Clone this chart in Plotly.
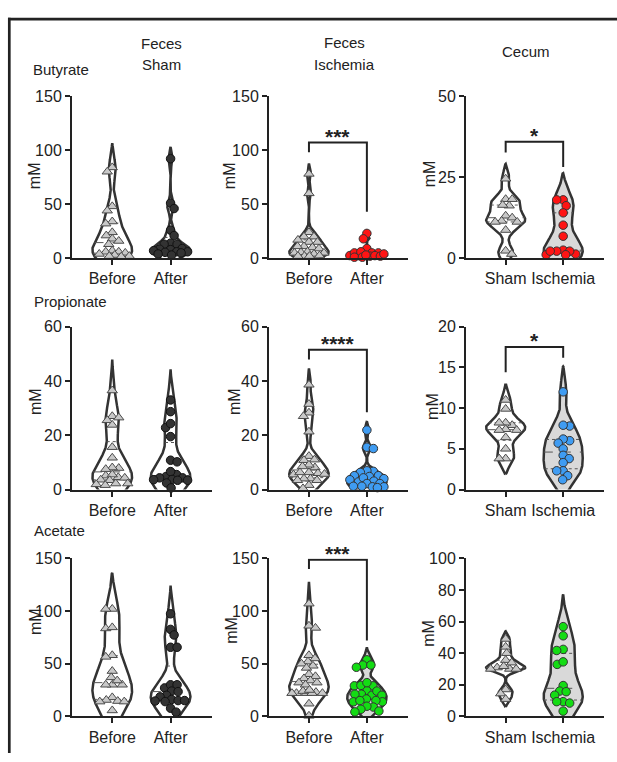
import numpy as np
import plotly.graph_objects as go

# ---------------- data (mM) ----------------
but_sham_before = [84, 80, 48, 44, 34, 32, 24, 21, 18, 16, 13, 7, 6, 6, 5, 4, 3, 2, 2, 1.5]
but_sham_after = [92, 51, 46, 26, 21, 14, 13, 13, 9, 8.5, 8, 7, 6, 6, 5.5, 5, 4, 3]
but_isch_before = [78, 60, 24, 20, 20, 17, 15, 15, 11, 10, 9, 11, 6, 5, 4, 5, 5.5, 2.5, 2, 2, 2]
but_isch_after = [23, 18, 9, 5, 2.5, 2.5, 5, 2, 5, 2.5, 6, 2, 1, 1, 4, 3]
but_cecum_sham = [24.5, 18.2, 18.2, 16.2, 16.4, 13.1, 12.5, 11.5, 11.2, 11.2, 8.7, 2.3, 1.3]
but_cecum_isch = [18, 18, 16.2, 14, 10.2, 6.8, 2.5, 1.3, 2.2, 2.2, 1.1, 2.2, 1.1]

prop_sham_before = [36.5, 27, 25.5, 26.5, 23.8, 15.6, 11.7, 7.9, 8.1, 7.5, 4.5, 5.1, 5.5, 3.6, 3.4, 4.3, 1.9, 2.2, 2.2, 1.6]
prop_sham_after = [33, 28.7, 22.8, 24.3, 19.5, 10.8, 10.2, 4.8, 5.5, 6.6, 4.3, 4.3, 3.7, 3.4, 3.4, 3.6, 2.4, 0.6]
prop_isch_before = [38.6, 31.5, 28.3, 27, 21.3, 12.3, 10.8, 11, 8.1, 9.1, 8.5, 6, 5.5, 6.3, 5.7, 6.3, 4, 3.4, 4, 3.4, 1.6, 0.4]
prop_isch_after = [21.9, 15.6, 15.1, 6.7, 6.9, 6.3, 5.1, 4.8, 5.1, 4, 3.1, 2.8, 3.6, 4.3, 2.2, 1.2, 1, 2.2, 1, 0.7, 1.2]
prop_cecum_sham = [11, 9.9, 7.9, 8.2, 8.2, 7.4, 7.3, 7.3, 6.4, 5, 3.8, 3.8]
prop_cecum_isch = [12, 7.8, 7.9, 6, 6.2, 5.7, 5, 4.2, 3.8, 3.3, 2.3, 2.3, 1.7, 1.2]

ace_sham_before = [102, 102, 83.5, 84.5, 58, 56.5, 43, 37, 30, 30, 30, 34, 18, 14.5, 15.5, 14, 14, 5.6]
ace_sham_after = [97.4, 82.6, 77.3, 65.6, 65.6, 27, 30, 30, 24, 23.5, 20, 18.5, 16, 14.5, 15, 15, 14, 7.7, 4]
ace_isch_before = [107, 86, 84, 58, 55, 52, 50, 48, 46, 40, 38, 36, 34, 32, 32, 30, 23, 22, 22, 22, 22, 22, 24, 25, 12, 0.5]
ace_isch_after = [53.7, 48.7, 48.7, 46.6, 29, 24.3, 29, 29.4, 32, 21, 20, 21, 24, 20, 16.5, 13.8, 15, 13.8, 15, 8.8, 9.6, 6.7, 4.2, 5]
ace_cecum_sham = [49, 44, 40, 35.6, 30.9, 30, 30, 30, 31.7, 34, 17, 14.4, 10.9]
ace_cecum_isch = [56.8, 51, 42.4, 41.7, 32.9, 34.5, 19.5, 16, 15.6, 13.4, 9.3, 9.3, 8.4, 3.3]

feces_cats = ["Before", "After"]
cecum_cats = ["Sham", "Ischemia"]
row_titles = ["Butyrate", "Propionate", "Acetate"]
y_max = [[150, 150, 50], [60, 60, 20], [150, 150, 100]]
y_dtick = [[50, 50, 25], [20, 20, 5], [50, 50, 20]]
# significance: (row, col, label, left-leg bottom, bracket top, right-leg bottom)
sig = [(0, 1, "***", 98, 107, 43), (0, 2, "*", 32.6, 35.9, 28.1),
       (1, 1, "****", 47.9, 51.5, 28.5), (1, 2, "*", 14.4, 17.5, 16.2),
       (2, 1, "***", 140, 148.8, 72)]

data = [
    [(but_sham_before, but_sham_after), (but_isch_before, but_isch_after), (but_cecum_sham, but_cecum_isch)],
    [(prop_sham_before, prop_sham_after), (prop_isch_before, prop_isch_after), (prop_cecum_sham, prop_cecum_isch)],
    [(ace_sham_before, ace_sham_after), (ace_isch_before, ace_isch_after), (ace_cecum_sham, ace_cecum_isch)],
]
row_color = ["#ff1414", "#3f9cf2", "#14dc14"]

# ---------------- layout geometry (pixels) ----------------
W, H = 617, 762
FONT = "Liberation Sans, Arial, sans-serif"
INK = "#222222"
col_px = [(72, 212), (269, 408), (466, 604)]
row_px = [(90, 256), (326, 492.5), (563, 724.5)]
XR = [-0.69, 1.71]
HALF = 0.34


def px_x(p):
    return p / W


def px_y(p):
    return 1 - p / H


def kde(vals):
    v = np.asarray(vals, float)
    n = len(v)
    sd = v.std(ddof=1)
    q75, q25 = np.percentile(v, [75, 25])
    s = min(sd, (q75 - q25) / 1.349) if q75 > q25 else sd
    bw = 0.9 * s * n ** -0.2
    ys = np.linspace(v.min() - 2.2 * bw, v.max() + 2.2 * bw, 300)
    d = np.exp(-0.5 * ((ys[:, None] - v[None, :]) / bw) ** 2).sum(1)
    d = d / d.max()
    d[0] = 0
    d[-1] = 0
    return ys, d


def swarm(vals, ypx, xpx, dia=6.5, maxw=17.0, step=0.5):
    v = np.asarray(vals, float)
    yy = v * ypx
    order = np.argsort(-v, kind="stable")
    cand = np.arange(0, maxw + step, step)
    cand = np.concatenate([[0.0], np.ravel(np.column_stack([cand[1:], -cand[1:]]))])
    placed = []
    off = np.zeros(len(v))
    for j, i in enumerate(order):
        c = cand if j % 2 == 0 else -cand
        if placed:
            P = np.array(placed)
            dist = np.sqrt((c[:, None] - P[None, :, 0]) ** 2 + (yy[i] - P[None, :, 1]) ** 2).min(1)
            okk = np.where(dist >= dia)[0]
            k = okk[0] if len(okk) else int(np.argmax(dist))
        else:
            k = 0
        off[i] = c[k]
        placed.append((c[k], yy[i]))
    return off / xpx


fig = go.Figure()
layout = dict(width=W, height=H, margin=dict(l=0, r=0, t=0, b=0),
              paper_bgcolor="white", plot_bgcolor="white", showlegend=False,
              font=dict(family=FONT, color=INK))
annotations = []
shapes = []

for r in range(3):
    for c in range(3):
        n = r * 3 + c + 1
        xa = "x" if n == 1 else f"x{n}"
        ya = "y" if n == 1 else f"y{n}"
        x0, x1 = col_px[c]
        t, b = row_px[r]
        ymax = y_max[r][c]
        cats = cecum_cats if c == 2 else feces_cats
        xpx = (x1 - x0) / (XR[1] - XR[0])
        ypx = (b - t) / ymax
        layout["xaxis" if n == 1 else f"xaxis{n}"] = dict(
            domain=[px_x(x0), px_x(x1)], anchor=ya, range=XR,
            tickmode="array", tickvals=[0, 1], ticktext=cats,
            showline=True, linecolor=INK, linewidth=2, ticks="outside",
            ticklen=5, tickwidth=2, tickcolor=INK, showgrid=False, zeroline=False,
            tickfont=dict(size=16, family=FONT, color=INK), fixedrange=True)
        layout["yaxis" if n == 1 else f"yaxis{n}"] = dict(
            domain=[px_y(b), px_y(t)], anchor=xa, range=[0, ymax],
            tickmode="linear", tick0=0, dtick=y_dtick[r][c],
            showline=True, linecolor=INK, linewidth=2, ticks="outside",
            ticklen=5, tickwidth=2, tickcolor=INK, showgrid=False, zeroline=False,
            tickfont=dict(size=16, family=FONT, color=INK), fixedrange=True)

        for g, vals in enumerate(data[r][c]):
            first = g == 0
            if first:
                fill = "white"
                mk = dict(symbol="triangle-up", size=9, color="#c8c8c8",
                          line=dict(color="#4a4a4a", width=1))
            elif c == 0:
                fill = "white"
                mk = dict(symbol="circle", size=8.5, color="#333333",
                          line=dict(color="#111111", width=1))
            else:
                fill = "#d9d9d9"
                mk = dict(symbol="circle", size=8.5, color=row_color[r],
                          line=dict(color="#333333", width=1))
            ys, d = kde(vals)
            hw = HALF * d
            vx = np.concatenate([g + hw, (g - hw)[::-1]])
            vy = np.concatenate([ys, ys[::-1]])
            fig.add_trace(go.Scatter(x=vx, y=vy, mode="lines", fill="toself",
                                     fillcolor=fill, line=dict(color="#333333", width=2.5),
                                     xaxis=xa, yaxis=ya, hoverinfo="skip"))
            q1, med, q3 = np.percentile(vals, [25, 50, 75])
            for q, dash in ((q1, "dot"), (med, "dash"), (q3, "dot")):
                w = HALF * np.interp(q, ys, d)
                fig.add_trace(go.Scatter(x=[g - w, g + w], y=[q, q], mode="lines",
                                         line=dict(color="#555555", width=1, dash=dash),
                                         xaxis=xa, yaxis=ya, hoverinfo="skip"))
            off = swarm(vals, ypx, xpx)
            fig.add_trace(go.Scatter(x=g + off, y=vals, mode="markers", marker=mk,
                                     cliponaxis=False, xaxis=xa, yaxis=ya))

for (r, c, lab, lb, top, rb) in sig:
    n = r * 3 + c + 1
    xa = "x" if n == 1 else f"x{n}"
    ya = "y" if n == 1 else f"y{n}"
    shapes.append(dict(type="path", xref=xa, yref=ya,
                       path=f"M 0 {lb} L 0 {top} L 1 {top} L 1 {rb}",
                       line=dict(color=INK, width=2)))
    annotations.append(dict(text=f"<b>{lab}</b>", x=0.5, y=top, xref=xa, yref=ya,
                            xanchor="center", yanchor="bottom", yshift=-7,
                            showarrow=False, font=dict(size=21, family=FONT, color=INK)))

# headers
hdr = [("Feces", 161, 36), ("Sham", 162, 58), ("Feces", 344, 35), ("Ischemia", 344, 58),
       ("Cecum", 526, 45)]
for txt, x, y in hdr:
    annotations.append(dict(text=txt, x=px_x(x), y=px_y(y), xref="paper", yref="paper",
                            xanchor="center", yanchor="middle", showarrow=False,
                            font=dict(size=15, family=FONT, color=INK)))
for txt, (x, y) in zip(row_titles, [(61, 63), (70, 300), (59, 534)]):
    annotations.append(dict(text=txt, x=px_x(x), y=px_y(y), xref="paper", yref="paper",
                            xanchor="center", yanchor="middle", showarrow=False,
                            font=dict(size=15, family=FONT, color=INK)))
mm_pos = [(34, 172), (229, 172), (429, 170), (35, 403), (234, 403), (433, 407),
          (36, 628), (232, 637), (429, 640)]
for x, y in mm_pos:
    annotations.append(dict(text="mM", x=px_x(x), y=px_y(y), xref="paper", yref="paper",
                            xanchor="center", yanchor="middle", textangle=-90, showarrow=False,
                            font=dict(size=16, family=FONT, color=INK)))

# frame
shapes.append(dict(type="line", xref="paper", yref="paper", x0=px_x(8), x1=1,
                   y0=px_y(11.3), y1=px_y(11.3), line=dict(color=INK, width=2.7)))
shapes.append(dict(type="line", xref="paper", yref="paper", x0=px_x(9.3), x1=px_x(9.3),
                   y0=px_y(10), y1=0, line=dict(color=INK, width=2.7)))

layout["annotations"] = annotations
layout["shapes"] = shapes
fig.update_layout(**layout)

post = ("document.documentElement.style.margin='0';"
        "document.documentElement.style.overflow='hidden';"
        "document.body.style.margin='0';document.body.style.overflow='hidden';"
        "var d=document.getElementById('{plot_id}');"
        "d.style.position='fixed';d.style.top='0px';d.style.left='0px';")
fig.write_html("out.html", config={"displayModeBar": False}, post_script=post)
